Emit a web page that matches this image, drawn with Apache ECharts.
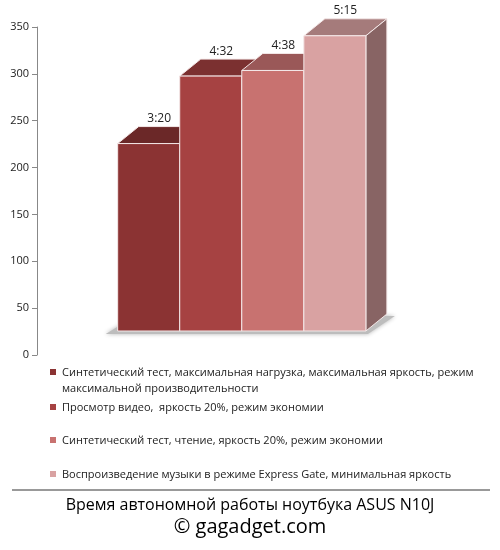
<!DOCTYPE html><html><head><meta charset="utf-8">
<script src="https://cdn.jsdelivr.net/npm/echarts@6/dist/echarts.min.js"></script>
<style>html,body{margin:0;background:#fff}#c{width:500px;height:550px}</style></head><body><div id="c"></div>
<script>
const categories=["Синтетический тест, максимальная нагрузка, максимальная яркость, режим\nмаксимальной производительности","Просмотр видео,  яркость 20%, режим экономии","Синтетический тест, чтение, яркость 20%, режим экономии","Воспроизведение музыки в режиме Express Gate, минимальная яркость"];
const values=[200,272,278,315];
const timeLabels=["3:20","4:32","4:38","5:15"];
const frontColors=["#8B3333","#A64242","#C87270","#D9A2A2"];
const topColors=["#6B2828","#7B3030","#9A5858","#A57B7B"];
const sideColors=["#6B2828","#7B3030","#9A5858","#886464"];
const chart=echarts.init(document.getElementById('c'));
const DX=21,DY=-17,X0=1.3,BASE=-24;
const data=values.map((v,i)=>[i,v]);
const legendY=[372,407,440,474];
const graphics=[];
categories.forEach((c,i)=>{
 graphics.push({type:'rect',shape:{x:50,y:legendY[i]-3,width:6,height:6},style:{fill:frontColors[i]}});
 graphics.push({type:'text',x:62,y:legendY[i]-7,style:{text:c,font:'11px "Open Sans", sans-serif',fill:'#222',lineHeight:16}});
});
graphics.push({type:'line',shape:{x1:12,y1:490,x2:490,y2:490},style:{stroke:'#999',lineWidth:2}});
graphics.push({type:'text',left:'center',top:497,style:{text:'Время автономной работы ноутбука ASUS N10J',font:'16px "Open Sans", sans-serif',fill:'#000'}});
graphics.push({type:'text',left:'center',top:517,style:{text:'© gagadget.com',font:'20px "Open Sans", sans-serif',fill:'#000'}});
chart.setOption({
 animation:false,
 grid:{left:37,right:10,top:27,bottom:195},
 xAxis:{type:'value',min:0,max:7.3,show:false},
 yAxis:{type:'value',min:0,max:350,interval:50,axisLine:{show:true,lineStyle:{color:'#888'}},axisTick:{show:true,lineStyle:{color:'#888'}},splitLine:{show:false},axisLabel:{color:'#222',fontSize:11,fontFamily:'"Open Sans", sans-serif'}},
 graphic:graphics,
 series:[{type:'custom',data:data,renderItem:(p,api)=>{
   const i=api.value(0),v=api.value(1);
   const a=api.coord([X0+i,0]),b=api.coord([X0+i+1,v]);
   const x1=a[0],x2=b[0],yb=a[1]+BASE,yt=b[1]+BASE;
   const ch=[];
   if(i===0){
     const e=api.coord([X0+4,0]);
     ch.push({type:'polygon',shape:{points:[[x1-12,yb+3],[e[0]+2,yb+3],[e[0]+DX+8,yb+DY+2],[x1+DX,yb+DY]]},style:{fill:'#bdbdbd',shadowBlur:4,shadowColor:'rgba(0,0,0,0.3)'}});
   }
   ch.push({type:'polygon',shape:{points:[[x1,yt],[x1+DX,yt+DY],[x2+DX,yt+DY],[x2,yt]]},style:{fill:topColors[i],stroke:'#f4e8e8',lineWidth:1}});
   ch.push({type:'polygon',shape:{points:[[x2,yt],[x2+DX,yt+DY],[x2+DX,yb+DY],[x2,yb]]},style:{fill:sideColors[i],stroke:'#f4e8e8',lineWidth:1}});
   ch.push({type:'rect',shape:{x:x1,y:yt,width:x2-x1,height:yb-yt},style:{fill:frontColors[i],stroke:'#f4e8e8',lineWidth:1}});
   ch.push({type:'text',x:(x1+x2)/2+DX/2,y:yt+DY-2,style:{text:timeLabels[i],align:'center',verticalAlign:'bottom',font:'12px "Open Sans", sans-serif',fill:'#222'}});
   return {type:'group',children:ch};
 }}]
});
</script></body></html>
